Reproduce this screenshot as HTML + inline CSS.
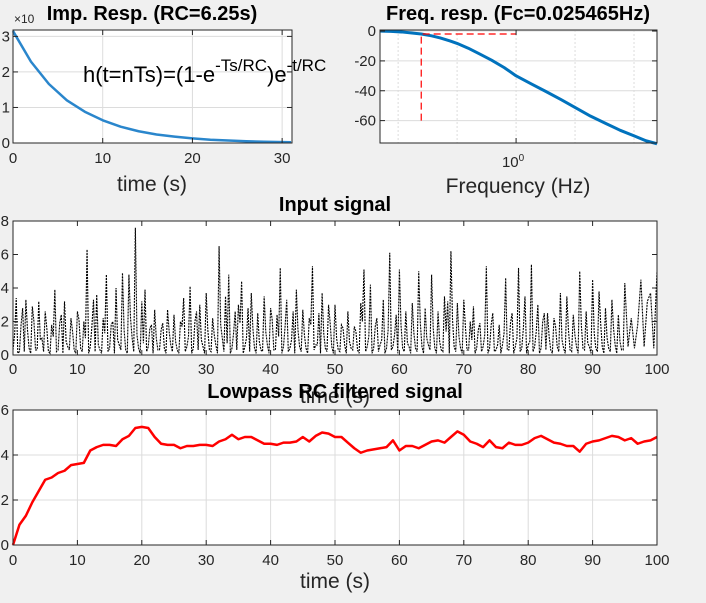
<!DOCTYPE html>
<html><head><meta charset="utf-8"><style>
body{margin:0;background:#f0f0f0;}
svg{display:block;font-family:"Liberation Sans",Arial,sans-serif;}
.tk{font-size:15px;fill:#262626;}
.tt{font-size:20px;font-weight:bold;fill:#000;}
.xl{font-size:21px;fill:#262626;}
</style></head><body>
<svg id="fig" width="706" height="603" viewBox="0 0 706 603" xmlns="http://www.w3.org/2000/svg">
<rect width="706" height="603" fill="#f0f0f0"/>
</svg>
<script>
// ---- data ----
const impT=[0,2,4,6,8,10,12,14,16,18,20,22,24,26,28,31];
const impH=[3.15,2.29,1.66,1.2,0.88,0.64,0.46,0.33,0.24,0.18,0.13,0.09,0.07,0.05,0.035,0.02];
const impXTicks=[0,10,20,30];
const impYTicks=[0,1,2,3];
const freqF=[0.202,0.23,0.26,0.29,0.328,0.37,0.41,0.46,0.5,0.57,0.655,0.75,0.87,1,1.2,1.42,1.7,2.02,2.4,2.88,3.4,4.05,4.6,5.24];
const freqDB=[0,-0.2,-0.6,-1.2,-2,-3.2,-4.6,-6.6,-8.3,-11.5,-15.5,-19.5,-24.5,-30,-35.5,-40.5,-46,-51.5,-57,-62,-66.5,-70.5,-73.5,-75.5];
const freqYTicks=[0,-20,-40,-60];
const freqGrid=[0.25,0.5,1,2,4];
const cutF=0.328, cutDB=-2, cutYMin=-60, cutXMax=1;
const inVals=[0.3,3.4,0.2,2.8,3.3,0.4,2.9,0.3,3.2,1.0,2.6,0.2,1.8,3.9,0.3,2.4,3.2,0.5,2.2,0.3,2.6,0.4,2.0,6.3,0.5,3.3,3.6,0.3,2.2,4.8,0.4,2.0,4.0,0.6,4.9,0.3,4.8,1.0,7.6,0.4,3.2,3.9,0.5,1.8,2.7,0.3,1.5,0.4,2.7,0.6,2.4,0.3,2.0,3.4,0.5,4.1,0.4,2.6,3.0,0.5,3.7,0.3,2.2,0.6,6.5,1.0,3.5,4.8,0.4,2.6,3.0,4.4,0.5,2.8,3.7,0.4,2.5,0.3,3.5,0.6,2.8,0.3,2.4,5.2,0.5,3.3,0.4,2.6,3.9,0.5,2.7,0.4,2.2,5.3,0.6,2.5,3.7,0.4,3.0,0.5,3.0,0.3,1.8,0.6,2.6,0.4,1.7,0.3,3.1,5.1,0.5,4.2,0.4,2.2,0.6,3.3,0.4,6.1,0.5,2.4,5.1,0.4,2.6,0.5,3.1,0.4,5.0,0.5,2.8,0.6,4.8,0.4,2.6,0.3,3.5,3.2,6.2,0.5,3.1,0.4,3.3,0.3,2.0,2.9,0.4,1.9,0.5,5.3,0.4,2.5,0.3,1.8,0.6,4.6,0.3,2.5,0.5,5.2,0.4,3.5,0.6,5.4,0.5,3.0,0.4,2.5,2.5,0.3,2.2,0.5,3.7,0.4,3.5,0.3,2.4,0.5,5.0,0.4,2.6,0.5,4.5,0.4,3.8,0.5,2.8,0.4,3.3,0.6,2.4,0.3,4.3,0.5,2.2,0.4,1.8,4.5,0.5,3.2,3.7,0.4,5.0];
const inFill=[1.2,0.1,1.8,0.2,1.5,0.1,2.0,0.3,0.9,0.2,1.6,0.1,1.1,0.2,1.9,0.1,0.8,0.3,1.4,0.1,2.1,0.2,1.0,0.1,1.7,0.2,0.6,0.1,1.3,0.2,1.8,0.1,0.9,0.3,1.5,0.1,2.2,0.2,1.2,0.1,0.7,0.2,1.6,0.1,1.0,0.3,1.9,0.1,1.4,0.2,0.8,0.1,1.7,0.2,1.1,0.1,2.0,0.3,0.9,0.1,1.5,0.2,1.2,0.1,1.8,0.2,0.7,0.1,1.3,0.3,1.9,0.1,1.0,0.2,1.6,0.1,0.8,0.2,1.4,0.1,2.1,0.3,1.1,0.1,1.7,0.2,0.9,0.1,1.5,0.2,1.2,0.1,1.8,0.3,0.6,0.1,1.3,0.2,1.9,0.1,1.0,0.2,1.6,0.1,0.8,0.3,1.4,0.1,2.0,0.2,1.1,0.1,1.7,0.2,0.9,0.1,1.5,0.3,1.2,0.1,1.8,0.2,0.7,0.1,1.3,0.2,1.9,0.1,1.0,0.3,1.6,0.1,0.8,0.2,1.4,0.1,2.1,0.2,1.1,0.1,1.7,0.3,0.9,0.1,1.5,0.2,1.2,0.1,1.8,0.2,0.6,0.1,1.3,0.3,1.9,0.1,1.0,0.2,1.6,0.1,0.8,0.2,1.4,0.1,2.0,0.3,1.1,0.1,1.7,0.2,0.9,0.1,1.5,0.2,1.2,0.1,1.8,0.3,0.7,0.1,1.3,0.2,1.9,0.1,1.0,0.2,1.6,0.1,0.8,0.3];
const inDt=0.5;
const inYTicks=[0,2,4,6,8];
const timeTicks=[0,10,20,30,40,50,60,70,80,90,100];
const outVals=[0,0.9,1.3,1.9,2.4,2.9,3.0,3.2,3.3,3.55,3.6,3.65,4.2,4.35,4.45,4.45,4.4,4.7,4.85,5.2,5.25,5.2,4.8,4.5,4.45,4.45,4.3,4.4,4.4,4.45,4.45,4.4,4.6,4.7,4.9,4.7,4.8,4.8,4.65,4.5,4.5,4.45,4.55,4.55,4.6,4.8,4.6,4.85,5.0,4.95,4.8,4.8,4.55,4.3,4.1,4.2,4.25,4.3,4.35,4.65,4.2,4.4,4.4,4.3,4.45,4.6,4.65,4.55,4.8,5.05,4.9,4.6,4.5,4.35,4.65,4.35,4.3,4.55,4.45,4.45,4.55,4.75,4.85,4.7,4.55,4.5,4.4,4.4,4.15,4.5,4.6,4.65,4.75,4.85,4.8,4.65,4.75,4.5,4.6,4.65,4.8];
const outYTicks=[0,2,4,6];

// ---- helpers ----
const NS='http://www.w3.org/2000/svg';
const svg=document.getElementById('fig');
function mk(tag,attrs,parent,text){const e=document.createElementNS(NS,tag);for(const k in attrs)e.setAttribute(k,attrs[k]);if(text!==undefined)e.textContent=text;(parent||svg).appendChild(e);return e;}
function lin(d0,d1,r0,r1){return v=>r0+(v-d0)/(d1-d0)*(r1-r0);}
function axesBox(name,x0,y0,x1,y1){
  const g=mk('g',{});
  
  
  mk('rect',{x:x0,y:y0,width:x1-x0,height:y1-y0,fill:'#fff'},g);
  return g;
}
function frame(g,x0,y0,x1,y1){mk('rect',{x:x0,y:y0,width:x1-x0,height:y1-y0,fill:'none',stroke:'#262626','stroke-width':1},g);}
function grid(g,xs,ys,x0,y0,x1,y1,dash){
  xs.forEach(x=>mk('line',{x1:x,x2:x,y1:y0,y2:y1,stroke:'#dcdcdc','stroke-width':1,'stroke-dasharray':dash||'none'},g));
  ys.forEach(y=>mk('line',{x1:x0,x2:x1,y1:y,y2:y,stroke:'#dcdcdc','stroke-width':1},g));
}
function ticks(g,xs,ys,x0,y0,x1,y1){
  xs.forEach(x=>{mk('line',{x1:x,x2:x,y1:y1,y2:y1-5,stroke:'#262626'},g);mk('line',{x1:x,x2:x,y1:y0,y2:y0+5,stroke:'#262626'},g);});
  ys.forEach(y=>{mk('line',{x1:x0,x2:x0+5,y1:y,y2:y,stroke:'#262626'},g);mk('line',{x1:x1,x2:x1-5,y1:y,y2:y,stroke:'#262626'},g);});
}
function label(g,x,y,txt,anchor,name,cls){const t=mk('text',{x:x,y:y,'text-anchor':anchor,class:cls||'tk'},g,txt);return t;}
function pts(xs,ys,fx,fy){return xs.map((v,i)=>fx(v).toFixed(2)+','+fy(ys[i]).toFixed(2)).join(' ');}

// ---- 1. impulse response ----
(function(){
  const x0=13,x1=292,y0=30,y1=143;
  const fx=lin(0,31.1,x0,x1), fy=lin(0,3.18,y1,y0);
  const g=axesBox('impulse-response-axes',x0,y0,x1,y1);
  grid(g,impXTicks.map(fx),impYTicks.map(fy),x0,y0,x1,y1);
  const l=mk('polyline',{points:pts(impT,impH,fx,fy),fill:'none',stroke:'#2a86cc','stroke-width':2.5,'stroke-linejoin':'round'},g);
  
  
  frame(g,x0,y0,x1,y1);ticks(g,impXTicks.map(fx),impYTicks.map(fy),x0,y0,x1,y1);
  impXTicks.forEach(v=>label(g,fx(v),163,v,'middle','imp-x-tick'));
  impYTicks.forEach(v=>label(g,x0-3,fy(v)+5,v,'end','imp-y-tick'));
  label(g,14,23,'×10','start','imp-y-exponent').setAttribute('style','font-size:12px');
  const a=mk('text',{x:83,y:82,style:'font-size:22px',fill:'#000'},g);
  
  
  a.innerHTML='h(t=nTs)=(1-e<tspan dy="-11" style="font-size:17px">-Ts/RC</tspan><tspan dy="11">)e</tspan><tspan dy="-11" style="font-size:17px">-t/RC</tspan>';
  label(g,152,20,'Imp. Resp. (RC=6.25s)','middle','imp-title','tt');
  label(g,152,191,'time (s)','middle','imp-x-label','xl');
})();

// ---- 2. frequency response ----
(function(){
  const x0=380,x1=657,y0=30,y1=143;
  const lx=lin(Math.log10(0.202),Math.log10(5.24),x0,x1), fx=f=>lx(Math.log10(f)), fy=lin(-75,0.7,y1,y0);
  const g=axesBox('frequency-response-axes',x0,y0,x1,y1);
  grid(g,freqGrid.map(fx),freqYTicks.map(fy),x0,y0,x1,y1,'2,2');
  const l=mk('polyline',{points:pts(freqF,freqDB,fx,fy),fill:'none',stroke:'#0072bd','stroke-width':3,'stroke-linejoin':'round'},g);
  
  
  const c=mk('path',{d:`M${fx(cutF)},${fy(cutYMin)} L${fx(cutF)},${fy(cutDB)} L${fx(cutXMax)},${fy(cutDB)}`,fill:'none',stroke:'#ff0000','stroke-width':1.2,'stroke-dasharray':'7,4'},g);
  
  
  frame(g,x0,y0,x1,y1);ticks(g,[fx(1)],freqYTicks.map(fy),x0,y0,x1,y1);
  freqYTicks.map(v=>label(g,x0-4,fy(v)+5,v,'end','freq-y-tick'));
  const t=label(g,fx(1)-3,167,'10','middle','freq-x-tick');
  mk('tspan',{dy:-6,style:'font-size:10px'},t,'0');
  label(g,518,20,'Freq. resp. (Fc=0.025465Hz)','middle','freq-title','tt');
  label(g,518,193,'Frequency (Hz)','middle','freq-x-label','xl');
})();

// ---- 3. input signal ----
(function(){
  const x0=13,x1=657,y0=221,y1=355;
  const fx=lin(0,100,x0,x1), fy=lin(0,8,y1,y0);
  const g=axesBox('input-signal-axes',x0,y0,x1,y1);
  const ts=[], vs=[];
  inVals.forEach((v,i)=>{ts.push(i*inDt);vs.push(v);if(i<inFill.length){ts.push(i*inDt+inDt/2);vs.push(inFill[i]);}});
  const l=mk('polyline',{points:pts(ts,vs,fx,fy),fill:'none',stroke:'#000','stroke-width':1.1,'stroke-dasharray':'2,1'},g);
  
  
  frame(g,x0,y0,x1,y1);ticks(g,timeTicks.map(fx),inYTicks.map(fy),x0,y0,x1,y1);
  timeTicks.forEach(v=>label(g,fx(v),374,v,'middle','input-x-tick'));
  inYTicks.forEach(v=>label(g,x0-4,fy(v)+5,v,'end','input-y-tick'));
  label(g,335,403,'time (s)','middle','input-x-label','xl');
  label(g,335,211,'Input signal','middle','input-title','tt');
})();

// ---- 4. filtered signal ----
(function(){
  const x0=13,x1=657,y0=410,y1=545;
  const fx=lin(0,100,x0,x1), fy=lin(0,6,y1,y0);
  const g=axesBox('filtered-signal-axes',x0,y0,x1,y1);
  grid(g,timeTicks.map(fx),outYTicks.map(fy),x0,y0,x1,y1);
  const ts=outVals.map((v,i)=>i);
  const l=mk('polyline',{points:pts(ts,outVals,fx,fy),fill:'none',stroke:'#ff0000','stroke-width':2.5,'stroke-linejoin':'round'},g);
  
  
  frame(g,x0,y0,x1,y1);ticks(g,timeTicks.map(fx),outYTicks.map(fy),x0,y0,x1,y1);
  timeTicks.forEach(v=>label(g,fx(v),565,v,'middle','filtered-x-tick'));
  outYTicks.forEach(v=>label(g,x0-4,fy(v)+5,v,'end','filtered-y-tick'));
  label(g,335,588,'time (s)','middle','filtered-x-label','xl');
  label(g,335,398,'Lowpass RC filtered signal','middle','filtered-title','tt');
})();
</script>
</body></html>
